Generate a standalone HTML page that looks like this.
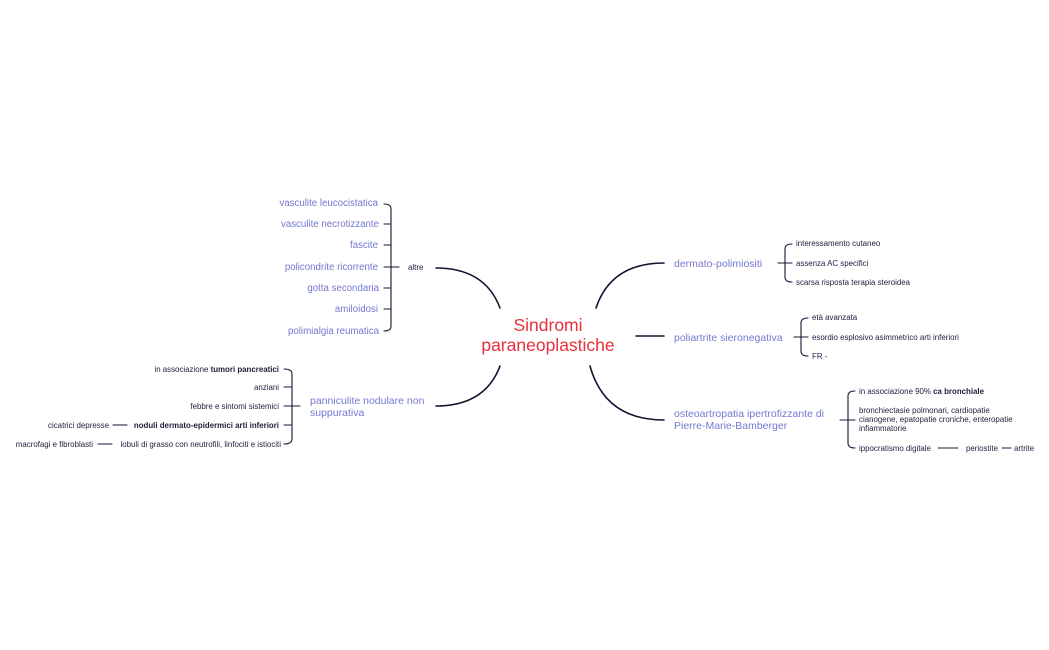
<!DOCTYPE html>
<html><head><meta charset="utf-8"><style>
html,body{margin:0;padding:0;background:#fff;}
svg{display:block;}
text{font-family:"Liberation Sans",sans-serif;}
.p{fill:#7478d0;font-size:9.7px;}
.s{fill:#1e1e3c;font-size:7.9px;}
.n{fill:#7478d0;font-size:10.5px;}
.b{font-weight:bold;}
path,line{stroke:#141432;fill:none;stroke-width:1.6;stroke-linecap:round;}
.t{stroke-width:1.1;}
</style></head><body>
<svg width="1049" height="650" viewBox="0 0 1049 650">
<text x="548" y="331" text-anchor="middle" fill="#e8303a" style="font-size:17.5px">Sindromi</text>
<text x="548" y="351" text-anchor="middle" fill="#e8303a" style="font-size:17.5px">paraneoplastiche</text>
<!-- main connectors -->
<path d="M436 268 Q485 268 500 308"/>
<path d="M436 406 Q485 406 500 366"/>
<path d="M596 308 Q611 263 664 263"/>
<line x1="636" y1="336" x2="664" y2="336"/>
<path d="M590 366 Q605 420 664 420"/>
<!-- altre -->
<text class="s" x="408" y="270">altre</text>
<line class="t" x1="384" y1="267" x2="399" y2="267"/>
<path class="t" d="M384 204 Q391 204 391 209 L391 326 Q391 331 384 331"/>
<line class="t" x1="384" y1="224" x2="391" y2="224"/><line class="t" x1="384" y1="245" x2="391" y2="245"/>
<line class="t" x1="384" y1="288" x2="391" y2="288"/><line class="t" x1="384" y1="309" x2="391" y2="309"/>
<g text-anchor="end">
<text class="p" x="378" y="206">vasculite leucocistatica</text>
<text class="p" x="379" y="227">vasculite necrotizzante</text>
<text class="p" x="378" y="248">fascite</text>
<text class="p" x="378" y="270">policondrite ricorrente</text>
<text class="p" x="379" y="291">gotta secondaria</text>
<text class="p" x="378" y="312">amiloidosi</text>
<text class="p" x="379" y="334">polimialgia reumatica</text>
</g>
<!-- panniculite -->
<text class="n" x="310" y="404">panniculite nodulare non</text>
<text class="n" x="310" y="416">suppurativa</text>
<line class="t" x1="284" y1="406" x2="300" y2="406"/>
<path class="t" d="M284 369 Q292 369 292 374 L292 439 Q292 444 284 444"/>
<line class="t" x1="284" y1="387" x2="292" y2="387"/><line class="t" x1="284" y1="425" x2="292" y2="425"/>
<g text-anchor="end">
<text class="s" x="279" y="372">in associazione <tspan class="b">tumori pancreatici</tspan></text>
<text class="s" x="279" y="390">anziani</text>
<text class="s" x="279" y="409">febbre e sintomi sistemici</text>
<text class="s b" x="279" y="428">noduli dermato-epidermici arti inferiori</text>
<text class="s" x="281" y="447">lobuli di grasso con neutrofili, linfociti e istiociti</text>
<text class="s" x="109" y="428">cicatrici depresse</text>
<text class="s" x="93" y="447">macrofagi e fibroblasti</text>
</g>
<line class="t" x1="113" y1="425" x2="127" y2="425"/>
<line class="t" x1="98" y1="444" x2="112" y2="444"/>
<!-- dermato -->
<text class="n" x="674" y="267">dermato-polimiositi</text>
<line class="t" x1="778" y1="263" x2="792" y2="263"/>
<path class="t" d="M792 244 Q785 244 785 249 L785 277 Q785 282 792 282"/>
<text class="s" x="796" y="246">interessamento cutaneo</text>
<text class="s" x="796" y="266">assenza AC specifici</text>
<text class="s" x="796" y="285">scarsa risposta terapia steroidea</text>
<!-- poliartrite -->
<text class="n" x="674" y="341">poliartrite sieronegativa</text>
<line class="t" x1="794" y1="337" x2="808" y2="337"/>
<path class="t" d="M808 318 Q801 318 801 323 L801 351 Q801 356 808 356"/>
<text class="s" x="812" y="320">età avanzata</text>
<text class="s" x="812" y="340">esordio esplosivo asimmetrico arti inferiori</text>
<text class="s" x="812" y="359">FR -</text>
<!-- osteo -->
<text class="n" x="674" y="417">osteoartropatia ipertrofizzante di</text>
<text class="n" x="674" y="429">Pierre-Marie-Bamberger</text>
<line class="t" x1="840" y1="420" x2="855" y2="420"/>
<path class="t" d="M855 391 Q848 391 848 396 L848 443 Q848 448 855 448"/>
<text class="s" x="859" y="394">in associazione 90% <tspan class="b">ca bronchiale</tspan></text>
<text class="s" x="859" y="413">bronchiectasie polmonari, cardiopatie</text>
<text class="s" x="859" y="422">cianogene, epatopatie croniche, enteropatie</text>
<text class="s" x="859" y="431">infiammatorie</text>
<text class="s" x="859" y="451">ippocratismo digitale</text>
<line class="t" x1="938" y1="448" x2="958" y2="448"/>
<text class="s" x="966" y="451">periostite</text>
<line class="t" x1="1002" y1="448" x2="1011" y2="448"/>
<text class="s" x="1014" y="451">artrite</text>
</svg>
</body></html>
